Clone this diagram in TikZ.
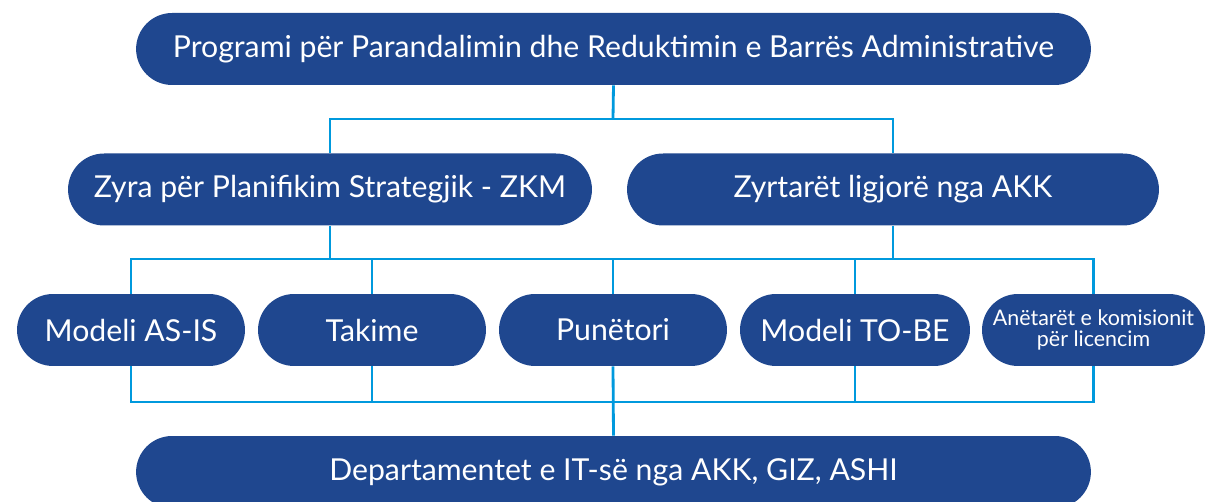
\documentclass[tikz,border=0pt]{standalone}
\usepackage{fontspec}
\setmainfont{Lato}
\usepackage{tikz}
\usetikzlibrary{positioning, calc}
\definecolor{blumire}{HTML}{1F478F}
\definecolor{bluqiell}{HTML}{0099DD}

\begin{document}
\begin{tikzpicture}[x=0.02cm, y=-0.02cm,
    kuti/.style={fill=blumire, text=white, rounded corners=0.72cm, minimum height=1.44cm, inner sep=0pt, align=center, font=\fontsize{17.2}{20}\selectfont},
    kutivogel/.style={kuti, font=\fontsize{12.2}{12.4}\selectfont},
    lidhje/.style={draw=bluqiell, line width=1.6pt}
]
    \useasboundingbox (0,0) rectangle (1205,502);
    \clip (0,0) rectangle (1205,502);

    \node[kuti, minimum width=19.1cm] (program) at (613.5, 49) {Programi për Parandalimin dhe Reduktimin e Barrës Administrative};

    \node[kuti, minimum width=10.48cm] (zyra) at (330, 189.5) {Zyra për Planifikim Strategjik - ZKM};
    \node[kuti, minimum width=10.64cm] (akk) at (893, 189.5) {Zyrtarët ligjorë nga AKK};

    \node[kuti, minimum width=4.56cm] (asis) at (131, 330) {Modeli AS-IS};
    \node[kuti, minimum width=4.56cm] (takime) at (372, 330) {Takime};
    \node[kuti, minimum width=4.56cm] (punetori) at (613, 330) {Punëtori};
    \node[kuti, minimum width=4.6cm] (tobe) at (855, 330) {Modeli TO-BE};
    \node[kutivogel, minimum width=4.46cm] (anetaret) at (1093.5, 330) {Anëtarët e komisionit\\për licencim};

    \node[kuti, minimum width=19.1cm] (dept) at (613.5, 472) {Departamentet e IT-së nga AKK, GIZ, ASHI};

    \coordinate (bus1) at (613, 119);
    \coordinate (bus2) at (613, 259);
    \coordinate (bus3) at (613, 402);

    % niveli i pare
    \draw[lidhje] (program.south) -- (bus1);
    \draw[lidhje] (zyra.north) |- (akk.north |- bus1) -- (akk.north);

    % niveli i dyte
    \draw[lidhje] (zyra.south) -- (zyra.south |- bus2);
    \draw[lidhje] (akk.south) -- (akk.south |- bus2);
    \draw[lidhje] (asis.north) |- (anetaret.north |- bus2) -- (anetaret.north);
    \foreach \n in {takime, punetori, tobe}
        \draw[lidhje] (\n.north) -- (\n.north |- bus2);

    % niveli i trete
    \draw[lidhje] (asis.south) |- (anetaret.south |- bus3) -- (anetaret.south);
    \foreach \n in {takime, tobe}
        \draw[lidhje] (\n.south) -- (\n.south |- bus3);
    \draw[lidhje] (punetori.south) -- (dept.north);
\end{tikzpicture}
\end{document}
